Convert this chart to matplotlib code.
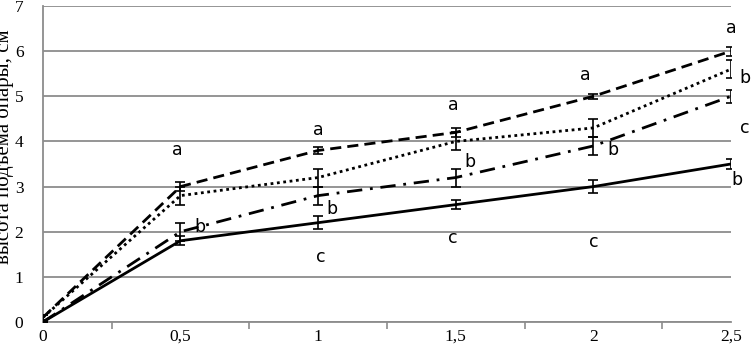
import matplotlib
matplotlib.use("Agg")
import matplotlib.pyplot as plt

x = [0, 0.5, 1, 1.5, 2, 2.5]
xtick_labels = ["0", "0,5", "1", "1,5", "2", "2,5"]

s_dashed = [0.1, 3.0, 3.8, 4.2, 5.0, 6.0]
e_dashed = [0.05, 0.1, 0.08, 0.1, 0.05, 0.1]
s_dotted = [0.1, 2.8, 3.2, 4.0, 4.3, 5.6]
e_dotted = [0.05, 0.2, 0.2, 0.2, 0.2, 0.2]
s_dashdot = [0.0, 2.0, 2.8, 3.2, 3.9, 5.0]
e_dashdot = [0.0, 0.2, 0.2, 0.2, 0.2, 0.15]
s_solid = [0.0, 1.8, 2.2, 2.6, 3.0, 3.5]
e_solid = [0.0, 0.1, 0.15, 0.1, 0.15, 0.1]

letters = ["a", "b", "a", "b", "c", "a", "b", "c", "a", "b", "c", "a", "b", "c", "b"]
letter_x = [0.49, 0.57, 1.0, 1.05, 1.01, 1.49, 1.55, 1.49, 1.97, 2.07, 2.0, 2.5, 2.55, 2.55, 2.52]
letter_y = [3.8, 2.1, 4.26, 2.5, 1.44, 4.8, 3.55, 1.86, 5.48, 3.81, 1.77, 6.52, 5.41, 4.3, 3.15]

ylabel = "высота подъема опары, см"

fig = plt.figure(figsize=(7.52, 3.54), dpi=100)
ax = fig.add_axes([0.057, 0.0904, 0.915, 0.8926])

grid_c = "#8c8c8c"
styles = [
    (s_dashed, e_dashed, (0, (4, 2.2))),
    (s_dotted, e_dotted, (0, (1, 1.3))),
    (s_dashdot, e_dashdot, (0, (5.5, 2.8, 1, 2.8))),
    (s_solid, e_solid, "solid"),
]
for ys, es, ls in styles:
    ax.plot(x, ys, color="black", linewidth=2.0, linestyle=ls, zorder=3)
    ax.errorbar(x, ys, yerr=es, fmt="none", ecolor="black", elinewidth=1.2,
                capsize=3.5, capthick=1.2, zorder=4)

for t, lx, ly in zip(letters, letter_x, letter_y):
    ax.text(lx, ly, t, fontsize=12.5, family="DejaVu Sans", ha="center", va="center")

ax.set_xlim(0, 2.5)
ax.set_ylim(0, 7)
ax.set_yticks(range(0, 8))
ax.yaxis.grid(True, color=grid_c, linewidth=1.3)
ax.set_axisbelow(True)
ax.set_xticks(x)
ax.set_xticklabels(xtick_labels)
ax.set_xticks([0.25, 0.75, 1.25, 1.75, 2.25], minor=True)
ax.tick_params(axis="x", which="major", length=0, pad=5, labelsize=12.5)
ax.tick_params(axis="x", which="minor", length=5, color=grid_c, width=1.2)
ax.tick_params(axis="y", length=0, labelsize=12.5, pad=14)
for lab in ax.get_xticklabels() + ax.get_yticklabels():
    lab.set_family("Liberation Serif")

for side in ["top", "right"]:
    ax.spines[side].set_visible(False)
for side in ["left", "bottom"]:
    ax.spines[side].set_color(grid_c)
    ax.spines[side].set_linewidth(1.3)

ax.set_ylabel(ylabel, family="Liberation Serif", fontsize=15)
ax.yaxis.set_label_coords(-0.0415, 0.555)

fig.savefig("out.png", dpi=100)
